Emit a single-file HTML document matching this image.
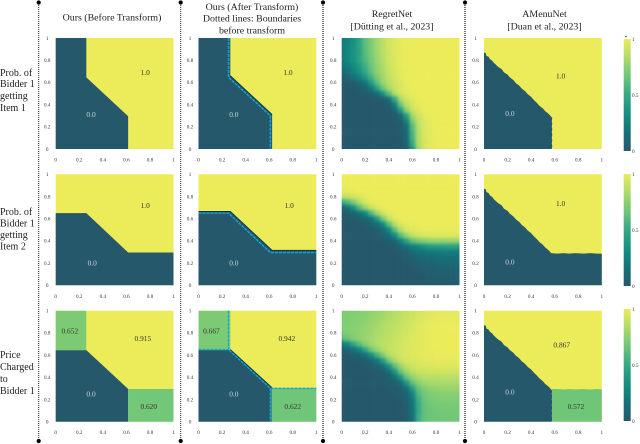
<!DOCTYPE html>
<html>
<head>
<meta charset="utf-8">
<style>
html,body{margin:0;padding:0;background:#fff;width:640px;height:444px;overflow:hidden}
svg{display:block;filter:blur(.35px)}
text{font-family:"Liberation Serif",serif}
</style>
</head>
<body>
<svg id="figure" xmlns="http://www.w3.org/2000/svg" width="640" height="444" viewBox="0 0 640 444">
<defs>
<filter id="soften" filterUnits="userSpaceOnUse" x="-50" y="-50" width="740" height="544" color-interpolation-filters="sRGB"><feGaussianBlur stdDeviation="1.7"/></filter>
</defs>
</svg>
<script>
const tickLabels = ['0','0.2','0.4','0.6','0.8','1'];
const tickValues = [0,0.2,0.4,0.6,0.8,1];
const colorbarTicks = [0,0.5,1];
const colorbarLabels = ['0','0.5','1'];
const columnLefts = [55.7,198.5,341.7,484];
const rowTops = [38,174.3,310.7];
const plotW = 117.8;
const plotH = 111;

const colormapStops = [0,0.15,0.3,0.5,0.66,0.71,0.85,1];
const colormapColors = ['#25586b','#166f78','#108a80','#35a885','#6cc57a','#7ccb74','#b4dd68','#ecec5a'];

/* Mechanism region boundaries (in value space 0..1) */
const oursDark1 = [[0,0],[0,1],[0.26,1],[0.26,0.645],[0.615,0.295],[0.615,0]];
const oursDark2 = [[0,0],[0,0.65],[0.26,0.65],[0.615,0.295],[1,0.295],[1,0]];
const oursDark3 = [[0,0],[0,0.645],[0.26,0.645],[0.615,0.295],[0.615,0]];
const oursTL3 = [[0,0.645],[0,1],[0.26,1],[0.26,0.645]];
const oursBR3 = [[0.615,0],[0.615,0.295],[1,0.295],[1,0]];
const afterDark1 = [[0,0],[0,1],[0.27,1],[0.27,0.66],[0.625,0.31],[0.625,0]];
const afterDark2 = [[0,0],[0,0.665],[0.27,0.665],[0.625,0.315],[1,0.315],[1,0]];
const afterDark3 = [[0,0],[0,0.65],[0.27,0.65],[0.625,0.305],[0.625,0]];
const afterTL3 = [[0,0.645],[0,1],[0.27,1],[0.27,0.645]];
const afterBR3 = [[0.62,0],[0.62,0.305],[1,0.305],[1,0]];
const afterEdge1 = [[0.27,0.66],[0.625,0.31]];
const afterEdge3 = [[0.27,0.65],[0.625,0.305]];
const beforeLine1 = [[0.255,1],[0.255,0.645],[0.61,0.3],[0.61,0]];
const beforeLine2 = [[0,0.65],[0.255,0.65],[0.61,0.295],[1,0.295]];
const beforeLine3a = [[0.255,1],[0.255,0.65],[0.61,0.3],[0.61,0]];
const beforeLine3b = [[0,0.65],[0.255,0.65]];
const beforeLine3c = [[0.61,0.3],[1,0.3]];
const menuDiagonal = [[0,0.87],[0.015,0.865],[0.02,0.84],[0.04,0.83],[0.05,0.81],[0.07,0.795],[0.08,0.78],[0.1,0.76],[0.12,0.74],[0.15,0.72],[0.17,0.69],[0.2,0.67],[0.22,0.645],[0.25,0.62],[0.27,0.595],[0.3,0.57],[0.32,0.545],[0.35,0.52],[0.37,0.495],[0.4,0.47],[0.42,0.445],[0.45,0.415],[0.47,0.39],[0.5,0.365],[0.52,0.34],[0.55,0.315],[0.57,0.29]];
const menuVertical = [[0.58,0.28],[0.575,0.25],[0.58,0.23],[0.575,0.2],[0.58,0.18],[0.575,0.15],[0.58,0.13],[0.575,0.1],[0.58,0.08],[0.575,0.05],[0.58,0.03],[0.575,0]];
const menuHorizontal = [[0.62,0.285],[0.68,0.29],[0.72,0.285],[0.78,0.29],[0.84,0.285],[0.9,0.29],[0.96,0.285],[1,0.285]];
const menuHorizontalPrice = [[0.62,0.295],[0.68,0.29],[0.72,0.295],[0.78,0.29],[0.84,0.295],[0.9,0.29],[0.96,0.295],[1,0.29]];
const corners = {bl:[0,0],br:[1,0]};
const menuDark1 = menuDiagonal.concat(menuVertical,[corners.bl]);
const menuDark2 = menuDiagonal.concat(menuHorizontal,[corners.br,corners.bl]);
const menuDark3 = menuDiagonal.concat(menuVertical,[corners.bl]);
const menuBR3 = [[0.575,0]].concat(menuVertical.slice().reverse(),[[0.575,0.295]],menuHorizontalPrice,[corners.br]);

/* RegretNet samples, rows from y=1 to y=0 in steps of 0.05; columns x=0..1 in steps of 0.05 */
const regretItem1 = [
[.20,.26,.34,.45,.62,.72,.80,.87,.93,.96,.98,1,1,1,1,1,1,1,1,1,1],
[.21,.27,.35,.46,.62,.72,.80,.87,.93,.96,.98,1,1,1,1,1,1,1,1,1,1],
[.21,.28,.36,.46,.61,.71,.80,.87,.93,.96,.98,.99,1,1,1,1,1,1,1,1,1],
[.21,.28,.36,.46,.60,.70,.79,.86,.92,.96,.98,.99,1,1,1,1,1,1,1,1,1],
[.20,.27,.36,.46,.58,.68,.78,.85,.92,.95,.98,.99,1,1,1,1,1,1,1,1,1],
[.17,.22,.30,.40,.54,.66,.76,.84,.91,.95,.98,.99,1,1,1,1,1,1,1,1,1],
[.10,.17,.25,.36,.50,.63,.76,.83,.90,.94,.97,.99,1,1,1,1,1,1,1,1,1],
[.04,.08,.15,.25,.38,.55,.70,.80,.88,.93,.97,.99,1,1,1,1,1,1,1,1,1],
[0,.02,.04,.10,.20,.42,.62,.78,.86,.92,.96,.99,1,1,1,1,1,1,1,1,1],
[0,0,.01,.03,.08,.20,.44,.68,.82,.90,.95,.98,1,1,1,1,1,1,1,1,1],
[0,0,0,.01,.02,.05,.15,.35,.62,.84,.93,.97,.99,1,1,1,1,1,1,1,1],
[0,0,0,0,0,.01,.02,.05,.14,.50,.82,.92,.97,.99,1,1,1,1,1,1,1],
[0,0,0,0,0,0,0,.01,.03,.25,.65,.87,.94,.98,1,1,1,1,1,1,1],
[0,0,0,0,0,0,0,0,.01,.10,.40,.75,.90,.96,.99,1,1,1,1,1,1],
[0,0,0,0,0,0,0,0,0,.02,.10,.42,.80,.92,.97,.99,1,1,1,1,1],
[0,0,0,0,0,0,0,0,0,.01,.05,.25,.70,.88,.96,.98,1,1,1,1,1],
[0,0,0,0,0,0,0,0,0,0,.02,.15,.60,.86,.95,.98,1,1,1,1,1],
[0,0,0,0,0,0,0,0,0,0,.01,.12,.56,.85,.94,.98,.99,1,1,1,1],
[0,0,0,0,0,0,0,0,0,0,.01,.10,.55,.85,.94,.98,.99,1,1,1,1],
[0,0,0,0,0,0,0,0,0,0,0,.07,.50,.84,.94,.97,.99,1,1,1,1],
[0,0,0,0,0,0,0,0,0,0,0,.04,.40,.80,.92,.97,.99,1,1,1,1]];
const regretItem2 = [
[1,1,1,1,1,1,1,1,1,1,1,1,1,1,1,1,1,1,1,1,1],
[1,1,1,1,1,1,1,1,1,1,1,1,1,1,1,1,1,1,1,1,1],
[1,1,1,1,1,1,1,1,1,1,1,1,1,1,1,1,1,1,1,1,1],
[.97,.98,.99,1,1,1,1,1,1,1,1,1,1,1,1,1,1,1,1,1,1],
[.88,.90,.93,.96,.98,1,1,1,1,1,1,1,1,1,1,1,1,1,1,1,1],
[.50,.58,.72,.85,.95,.98,.99,1,1,1,1,1,1,1,1,1,1,1,1,1,1],
[.10,.18,.35,.60,.78,.90,.96,.99,1,1,1,1,1,1,1,1,1,1,1,1,1],
[.02,.04,.10,.18,.30,.58,.80,.92,.97,.99,1,1,1,1,1,1,1,1,1,1,1],
[0,.01,.02,.05,.10,.18,.40,.70,.90,.96,.99,1,1,1,1,1,1,1,1,1,1],
[0,0,0,.01,.03,.07,.14,.30,.62,.85,.95,.98,.99,1,1,1,1,1,1,1,1],
[0,0,0,0,.01,.02,.05,.12,.30,.62,.85,.94,.97,.98,.99,.99,.99,.99,.99,.99,.99],
[0,0,0,0,0,0,.02,.05,.12,.30,.60,.78,.88,.92,.94,.95,.96,.96,.96,.96,.96],
[0,0,0,0,0,0,0,.02,.04,.10,.25,.45,.62,.70,.74,.77,.78,.78,.78,.78,.78],
[0,0,0,0,0,0,0,0,.01,.03,.08,.15,.24,.30,.36,.40,.42,.43,.44,.44,.44],
[0,0,0,0,0,0,0,0,0,.01,.03,.06,.12,.16,.18,.20,.21,.22,.23,.23,.23],
[0,0,0,0,0,0,0,0,0,0,.01,.03,.06,.09,.11,.13,.14,.15,.15,.15,.15],
[0,0,0,0,0,0,0,0,0,0,0,.01,.03,.05,.07,.08,.09,.10,.11,.11,.11],
[0,0,0,0,0,0,0,0,0,0,0,0,.01,.03,.04,.05,.06,.07,.07,.08,.08],
[0,0,0,0,0,0,0,0,0,0,0,0,0,.01,.02,.03,.04,.05,.05,.06,.06],
[0,0,0,0,0,0,0,0,0,0,0,0,0,0,.01,.02,.03,.03,.04,.04,.04],
[0,0,0,0,0,0,0,0,0,0,0,0,0,0,0,.01,.02,.02,.03,.03,.03]];
const regretPrice = [
[.72,.72,.72,.73,.74,.76,.78,.80,.83,.85,.87,.89,.91,.93,.95,.96,.97,.97,.97,.97,.97],
[.72,.72,.73,.74,.75,.77,.79,.81,.84,.86,.88,.90,.92,.94,.96,.97,.98,.98,.98,.98,.98],
[.72,.72,.73,.74,.76,.78,.80,.83,.85,.87,.89,.91,.93,.95,.97,.98,.99,.99,.99,.99,.99],
[.72,.73,.74,.75,.77,.79,.81,.84,.86,.88,.90,.92,.94,.96,.98,.99,.99,1,1,1,1],
[.70,.72,.74,.76,.78,.80,.83,.85,.87,.89,.91,.93,.95,.97,.98,.99,1,1,1,1,1],
[.60,.66,.72,.76,.78,.81,.84,.86,.88,.90,.92,.94,.96,.97,.98,.99,1,1,1,1,1],
[.20,.30,.48,.62,.74,.80,.84,.87,.89,.91,.93,.95,.96,.97,.98,.99,1,1,1,1,1],
[.04,.08,.16,.30,.48,.68,.78,.85,.89,.91,.93,.95,.96,.97,.98,.99,.99,1,1,1,1],
[.01,.02,.04,.08,.15,.32,.55,.72,.85,.90,.93,.95,.96,.97,.98,.98,.99,.99,.99,.99,.99],
[0,0,.01,.02,.04,.10,.20,.42,.68,.82,.90,.93,.95,.96,.97,.97,.98,.98,.98,.98,.98],
[0,0,0,0,.01,.03,.07,.15,.35,.62,.78,.88,.92,.94,.95,.95,.96,.96,.96,.96,.96],
[0,0,0,0,0,.01,.02,.05,.14,.36,.65,.79,.87,.90,.91,.92,.92,.92,.92,.92,.92],
[0,0,0,0,0,0,.01,.02,.05,.14,.36,.64,.76,.83,.86,.87,.87,.87,.87,.87,.87],
[0,0,0,0,0,0,0,.01,.02,.05,.14,.38,.62,.74,.79,.81,.82,.82,.82,.82,.82],
[0,0,0,0,0,0,0,0,.01,.02,.05,.15,.42,.64,.72,.75,.77,.78,.78,.78,.78],
[0,0,0,0,0,0,0,0,0,.01,.03,.08,.26,.58,.68,.72,.73,.74,.74,.74,.74],
[0,0,0,0,0,0,0,0,0,0,.01,.06,.20,.52,.65,.69,.71,.72,.72,.72,.72],
[0,0,0,0,0,0,0,0,0,0,0,.04,.18,.50,.64,.67,.69,.70,.70,.70,.70],
[0,0,0,0,0,0,0,0,0,0,0,.03,.16,.50,.63,.66,.68,.69,.69,.69,.69],
[0,0,0,0,0,0,0,0,0,0,0,.03,.16,.52,.63,.66,.67,.68,.68,.68,.68],
[0,0,0,0,0,0,0,0,0,0,0,.02,.15,.52,.63,.66,.67,.68,.68,.68,.68]];

const titleLines = [
 ['Ours (Before Transform)'],
 ['Ours (After Transform)','Dotted lines: Boundaries','before transform'],
 ['RegretNet','[Dütting et al., 2023]'],
 ['AMenuNet','[Duan et al., 2023]']];
const titleCenters = [112,252,392,544.5];
const titleBaselines = [[20.5],[10,21.5,33.5],[17,29.5],[17,29.5]];
const rowLabels = [
 ['Prob. of','Bidder 1','getting','Item 1'],
 ['Prob. of','Bidder 1','getting','Item 2'],
 ['Price','Charged','to','Bidder 1']];
const rowLabelBaselines = [[76,87,99,111],[215,226.5,238,249.5],[358,370,382,394]];
const separatorXs = [38.7,180.7,323,465];

/* per-panel regions: [polygon, normalized colour value] over the panel background */
const panels = [
 [
  {bg:1,regions:[[oursDark1,0]],lines:[],labels:[['0.0',.3,.31,0],['1.0',.76,.69,1]]},
  {bg:1,regions:[[oursDark2,0]],lines:[],labels:[['0.0',.31,.2,0],['1.0',.76,.72,1]]},
  {bg:1,regions:[[oursDark3,0],[oursTL3,.71],[oursBR3,.68]],lines:[],labels:[['0.652',.12,.82,1],['0.915',.74,.75,1],['0.0',.3,.25,0],['0.620',.79,.14,1]]}
 ],[
  {bg:1,regions:[[afterDark1,0]],edge:afterEdge1,lines:[beforeLine1],labels:[['0.0',.3,.31,0],['1.0',.76,.69,1]]},
  {bg:1,regions:[[afterDark2,0]],edge:afterDark2.slice(1,-1),lines:[beforeLine2],labels:[['0.0',.3,.2,0],['1.0',.77,.72,1]]},
  {bg:1,regions:[[afterDark3,0],[afterTL3,.71],[afterBR3,.67]],edge:afterEdge3,lines:[beforeLine3a,beforeLine3b,beforeLine3c],labels:[['0.667',.11,.82,1],['0.942',.75,.75,1],['0.0',.3,.25,0],['0.622',.8,.14,1]]}
 ],[
  {grid:regretItem1,labels:[]},
  {grid:regretItem2,labels:[]},
  {grid:regretPrice,labels:[]}
 ],[
  {bg:1,regions:[[menuDark1,0]],lines:[],labels:[['0.0',.22,.32,0],['1.0',.65,.66,1]]},
  {bg:1,regions:[[menuDark2,0]],lines:[],labels:[['0.0',.22,.21,0],['1.0',.65,.74,1]]},
  {bg:1,regions:[[menuDark3,0],[menuBR3,.67]],lines:[],labels:[['0.0',.22,.27,0],['0.867',.66,.69,1],['0.572',.78,.14,1]]}
 ]];

const NS = 'http://www.w3.org/2000/svg';
const svg = document.getElementById('figure');
function make(tag, attrs, parent, txt){
  const e = document.createElementNS(NS, tag);
  for (const k in attrs) e.setAttribute(k, attrs[k]);
  if (txt !== undefined) e.textContent = txt;
  (parent || svg).appendChild(e);
  return e;
}
function hex(c){return [1,3,5].map(i=>parseInt(c.substr(i,2),16));}
function colorOf(v){
  v = Math.max(0, Math.min(1, v));
  for (let i = 1; i < colormapStops.length; i++){
    if (v <= colormapStops[i]){
      const t = (v - colormapStops[i-1]) / (colormapStops[i] - colormapStops[i-1]);
      const a = hex(colormapColors[i-1]), b = hex(colormapColors[i]);
      return 'rgb(' + a.map((x,j)=>Math.round(x + (b[j]-x)*t)).join(',') + ')';
    }
  }
  return colormapColors[colormapColors.length-1];
}

/* separators */
separatorXs.forEach((x,i)=>{
  const ln = make('line',{x1:x,x2:x,y1:3,y2:441,stroke:i<2?'#222':'#444','stroke-width':i<2?1:1.5,'stroke-dasharray':'1 1'});
  
  
  [2.5,441].forEach(y=>{
    const dot = make('circle',{cx:x,cy:y,r:2.1,fill:'#000'});
    
    
  });
});

/* titles */
titleLines.forEach((lines,c)=>{
  lines.forEach((s,i)=>{
    const t = make('text',{x:titleCenters[c],y:titleBaselines[c][i],'text-anchor':'middle','font-size':9.9,fill:'#222'},svg,s);
    
    
  });
});
/* row labels */
rowLabels.forEach((lines,r)=>{
  lines.forEach((s,i)=>{
    const t = make('text',{x:0,y:rowLabelBaselines[r][i],'font-size':10,fill:'#222'},svg,s);
    
    
  });
});

/* panels */
panels.forEach((col,c)=>{
  col.forEach((p,r)=>{
    const L = columnLefts[c], T = rowTops[r];
    const sx = v => L + v*plotW;
    const sy = v => T + (1-v)*plotH;
    const pts = a => a.map(q=>sx(q[0]).toFixed(2)+','+sy(q[1]).toFixed(2)).join(' ');
    const g = make('g',{});
    
    
    const cid = 'clip'+c+'_'+r;
    const cp = make('clipPath',{id:cid},svg);
    make('rect',{x:L,y:T,width:plotW,height:plotH},cp);
    if (p.grid){
      const clip = make('g',{'clip-path':'url(#'+cid+')'},g);
      const blur = make('g',{filter:'url(#soften)'},clip);
      const rows = p.grid.length, cols = p.grid[0].length;
      p.grid.forEach((row,ri)=>{
        row.forEach((v,ci)=>{
          const xv = ci/(cols-1), yv = 1-ri/(rows-1), hw = .5/(cols-1), hh = .5/(rows-1);
          let x0 = sx(xv-hw), x1 = sx(xv+hw), y0 = sy(yv+hh), y1 = sy(yv-hh);
          if (ci===0) x0 -= 30;
          if (ci===cols-1) x1 += 30;
          if (ri===0) y0 -= 30;
          if (ri===rows-1) y1 += 30;
          const cell = make('rect',{x:x0,y:y0,width:x1-x0+.3,height:y1-y0+.3,fill:colorOf(v)},blur);
          
          
        });
      });
    } else {
      const bg = make('rect',{x:L,y:T,width:plotW,height:plotH,fill:colorOf(p.bg)},g);
      
      
      p.regions.forEach(rg=>{
        const poly = make('polygon',{points:pts(rg[0]),fill:colorOf(rg[1])},g);
        
        
      });
      if (p.edge){
        const edge = make('polyline',{points:pts(p.edge),fill:'none',stroke:'#0f3442','stroke-width':.9},g);
        
        
      }
      p.lines.forEach(l=>{
        const dash = make('polyline',{points:pts(l),fill:'none',stroke:'#12a4dc','stroke-width':1.4,'stroke-dasharray':'3 1'},g);
        
        
      });
    }
    /* ticks */
    tickValues.forEach((v,i)=>{
      const xt = make('text',{x:sx(v),y:T+plotH+12.5,'text-anchor':'middle','font-size':5.2,fill:'#333'},g,tickLabels[i]);
      
      
      const yt = make('text',{x:L-8.5,y:sy(v)+1.8,'text-anchor':'middle','font-size':5.2,fill:'#333'},g,tickLabels[i]);
      
      
    });
    /* printed values */
    p.labels.forEach(lb=>{
      const t = make('text',{x:sx(lb[1]),y:sy(lb[2])+2.6,'text-anchor':'middle','font-size':7.4,fill:lb[3]?'#333':'#c9d6da'},g,lb[0]);
      
      
    });
  });
});

/* colorbars */
const grad = make('linearGradient',{id:'cbgrad',x1:0,y1:1,x2:0,y2:0},svg);
colormapStops.forEach((s,i)=>make('stop',{offset:s,'stop-color':colormapColors[i]},grad));
const cbTops = [39,174,309];
cbTops.forEach(y=>{
  const b = make('rect',{x:623.7,y:y,width:7,height:112,fill:'url(#cbgrad)'});
  
  
  colorbarTicks.forEach((v,i)=>{
    const t = make('text',{x:632,y:y+(1-v)*112+1.8,'font-size':5.2,fill:'#333'},svg,colorbarLabels[i]);
    
    
  });
});
const cbDot = make('circle',{cx:626,cy:36.5,r:.8,fill:'#1c3f5a'});


</script>
</body>
</html>
